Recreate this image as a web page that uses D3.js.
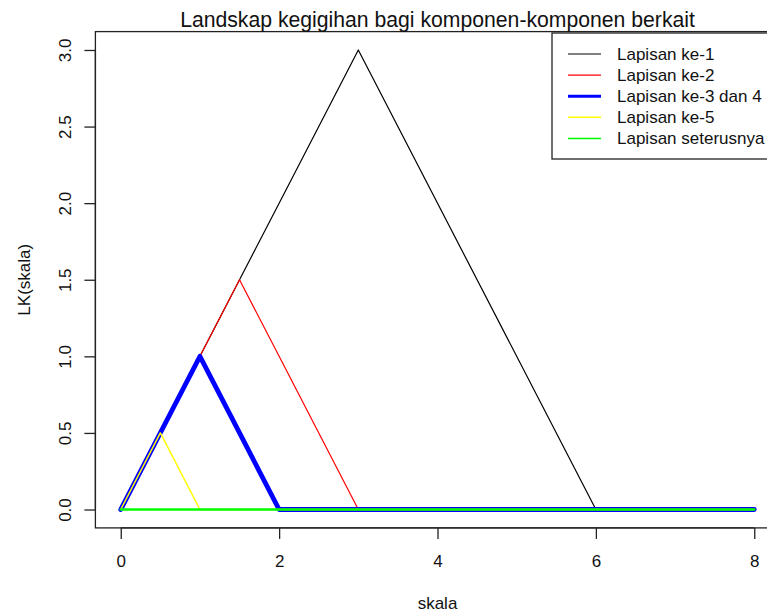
<!DOCTYPE html>
<html>
<head>
<meta charset="utf-8">
<script src="https://cdn.jsdelivr.net/npm/d3@7"></script>
<style>
  body { margin: 0; background: white; }
  text { font-family: "Liberation Sans", Arial, sans-serif; fill: #111; }
</style>
</head>
<body>
<div id="chart"></div>
<script>
// grid of skala values, every layer is piecewise linear between these
var skala = [0, 0.5, 1, 1.5, 2, 3, 6, 8];
var lapisan1 = [0, 0.5, 1, 1.5, 2, 3, 0, 0];
var lapisan2 = [0, 0.5, 1, 1.5, 1, 0, 0, 0];
var lapisan34 = [0, 0.5, 1, 0.5, 0, 0, 0, 0];
var lapisan5 = [0, 0.5, 0, 0, 0, 0, 0, 0];
var lapisanSeterus = [0, 0, 0, 0, 0, 0, 0, 0];

var legendLabels = ["Lapisan ke-1", "Lapisan ke-2", "Lapisan ke-3 dan 4", "Lapisan ke-5", "Lapisan seterusnya"];
var colours = ["#000000", "#ff0000", "#0000ff", "#ffff00", "#00ff00"];
var plotWidths = [1.2, 1.2, 4.8, 1.5, 2.5];
var legendWidths = [1.2, 1.2, 3, 1.5, 1.5];
var xTicks = [0, 2, 4, 6, 8];
var yTicks = [0, 0.5, 1, 1.5, 2, 2.5, 3];

var W = 767, H = 612;
var plotLeft = 95.4, plotRight = 779.6, plotTop = 31.6, plotBottom = 527.9;

var svg = d3.select("#chart")
    .append("svg")
    .attr("width", W)
    .attr("height", H)
    .style("display", "block");

svg.append("rect").attr("width", W).attr("height", H).style("fill", "white");

var x = d3.scaleLinear().domain([-0.32, 8.32]).range([plotLeft, plotRight]);
var y = d3.scaleLinear().domain([-0.12, 3.12]).range([plotBottom, plotTop]);

var series = [lapisan1, lapisan2, lapisan34, lapisan5, lapisanSeterus];

var line = d3.line()
    .x(function(d) { return x(d[0]); })
    .y(function(d) { return y(d[1]); });

svg.append("g")
    .selectAll("path")
    .data(series)
    .enter()
    .append("path")
    .attr("d", function(vals) { return line(vals.map(function(v, i) { return [skala[i], v]; })); })
    .style("fill", "none")
    .style("stroke", function(d, i) { return colours[i]; })
    .style("stroke-width", function(d, i) { return plotWidths[i]; })
    .style("stroke-linejoin", "round")
    .style("stroke-linecap", "round");

// plot frame
svg.append("rect")
    .attr("x", plotLeft)
    .attr("y", plotTop)
    .attr("width", plotRight - plotLeft)
    .attr("height", plotBottom - plotTop)
    .style("fill", "none")
    .style("stroke", "#222")
    .style("stroke-width", 1.3);

// axes
var xAxis = svg.append("g")
    .attr("transform", "translate(0," + plotBottom + ")")
    .call(d3.axisBottom(x).tickValues(xTicks).tickFormat(d3.format("d")).tickSize(11).tickSizeOuter(0));
xAxis.select(".domain").attr("d", "M" + x(0) + ",0H" + x(8)).style("stroke", "#222").style("stroke-width", 1.3);
xAxis.selectAll(".tick line").style("stroke", "#222").style("stroke-width", 1.3);
xAxis.selectAll(".tick text")
    .attr("y", 39)
    .attr("dy", 0)
    .style("font-size", "17px")
    .style("font-family", "Liberation Sans, Arial, sans-serif")
    .style("fill", "#111");

var yAxis = svg.append("g")
    .attr("transform", "translate(" + plotLeft + ",0)")
    .call(d3.axisLeft(y).tickValues(yTicks).tickFormat(d3.format(".1f")).tickSize(11).tickSizeOuter(0));
yAxis.select(".domain").attr("d", "M0," + y(0) + "V" + y(3)).style("stroke", "#222").style("stroke-width", 1.3);
yAxis.selectAll(".tick line").style("stroke", "#222").style("stroke-width", 1.3);
yAxis.selectAll(".tick text")
    .attr("x", 0)
    .attr("dy", 0)
    .attr("transform", "translate(-24,0) rotate(-90)")
    .attr("text-anchor", "middle")
    .style("font-size", "17px")
    .style("font-family", "Liberation Sans, Arial, sans-serif")
    .style("fill", "#111");

// title and labels
svg.append("text")
    .attr("x", (plotLeft + plotRight) / 2)
    .attr("y", 27)
    .attr("text-anchor", "middle")
    .style("font-size", "21.2px")
    .text("Landskap kegigihan bagi komponen-komponen berkait");

svg.append("text")
    .attr("x", (plotLeft + plotRight) / 2)
    .attr("y", 609)
    .attr("text-anchor", "middle")
    .style("font-size", "17px")
    .text("skala");

svg.append("text")
    .attr("transform", "translate(30," + ((plotTop + plotBottom) / 2) + ") rotate(-90)")
    .attr("text-anchor", "middle")
    .style("font-size", "17px")
    .text("LK(skala)");

// legend
var legend = svg.append("g").attr("id", "legend");
legend.append("rect")
    .attr("x", 552)
    .attr("y", 33)
    .attr("width", 260)
    .attr("height", 126)
    .style("fill", "white")
    .style("stroke", "#222")
    .style("stroke-width", 1.3);

var rows = legend.selectAll("g.row")
    .data(legendLabels)
    .enter()
    .append("g")
    .attr("class", "row")
    .attr("transform", function(d, i) { return "translate(0," + (54 + i * 21.1) + ")"; });

rows.append("line")
    .attr("x1", 568)
    .attr("x2", 601)
    .style("stroke", function(d, i) { return colours[i]; })
    .style("stroke-width", function(d, i) { return legendWidths[i]; });

rows.append("text")
    .attr("x", 617)
    .attr("y", 6)
    .style("font-size", "17px")
    .text(function(d) { return d; });
</script>
</body>
</html>
